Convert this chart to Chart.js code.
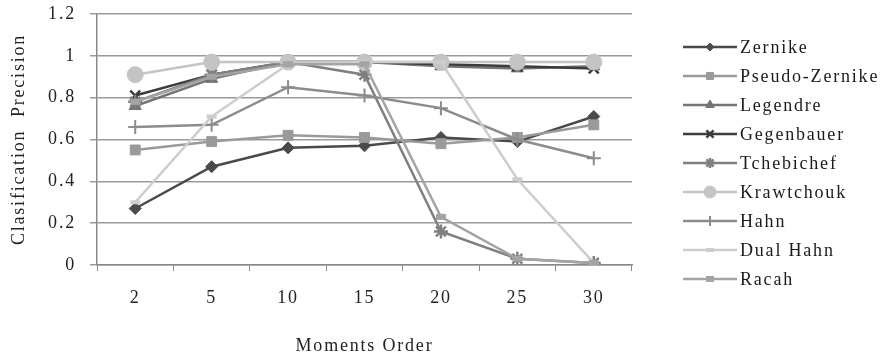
<!DOCTYPE html>
<html>
<head>
<meta charset="utf-8">
<script src="https://cdn.jsdelivr.net/npm/chart.js@4/dist/chart.umd.min.js"></script>
<style>
html,body{margin:0;padding:0;background:#fff;}
#wrap{width:884px;height:353px;position:relative;}
</style>
</head>
<body>
<div id="wrap"><canvas id="c" width="884" height="353"></canvas></div>
<script>
const categories = ['2','5','10','15','20','25','30'];
const zernike      = [0.27, 0.47, 0.56, 0.57, 0.61, 0.59, 0.71];
const pseudoZernike= [0.55, 0.59, 0.62, 0.61, 0.58, 0.61, 0.67];
const legendre     = [0.76, 0.89, 0.97, 0.97, 0.95, 0.94, 0.95];
const gegenbauer   = [0.81, 0.91, 0.97, 0.97, 0.96, 0.95, 0.94];
const tchebichef   = [0.78, 0.91, 0.97, 0.91, 0.16, 0.03, 0.01];
const krawtchouk   = [0.91, 0.97, 0.97, 0.97, 0.97, 0.97, 0.97];
const hahn         = [0.66, 0.67, 0.85, 0.81, 0.75, 0.60, 0.51];
const dualHahn     = [0.30, 0.71, 0.96, 0.97, 0.97, 0.41, 0.01];
const racah        = [0.78, 0.90, 0.96, 0.96, 0.23, 0.03, 0.01];
const yTicks = [0, 0.2, 0.4, 0.6, 0.8, 1, 1.2];

const seriesNames = ['Zernike','Pseudo-Zernike','Legendre','Gegenbauer','Tchebichef','Krawtchouk','Hahn','Dual Hahn','Racah'];
const seriesData = [zernike, pseudoZernike, legendre, gegenbauer, tchebichef, krawtchouk, hahn, dualHahn, racah];
const colors = ['#4a4a4a','#9a9a9a','#747474','#3c3c3c','#808080','#c4c4c4','#8c8c8c','#cdcdcd','#a4a4a4'];
const styles = ['rectRot','rect','triangle','crossRot','star','circle','cross','line','line'];
const radii = [6, 7, 7, 7, 7, 8, 7, 5, 5];
const pbw = [1, 1, 1, 2.5, 2.5, 1, 2, 4, 6];

const FONT = "'Liberation Serif', 'DejaVu Serif', serif";
const LS = '1.8px';

const datasets = seriesNames.map((n, i) => ({
  label: n,
  data: seriesData[i],
  borderColor: colors[i],
  backgroundColor: colors[i],
  pointBackgroundColor: colors[i],
  pointBorderColor: colors[i],
  pointStyle: styles[i],
  pointRadius: radii[i],
  pointBorderWidth: pbw[i],
  borderWidth: 2.5,
  tension: 0,
  fill: false,
  order: seriesNames.length - i
}));

const spacingPlugin = {
  id: 'spacing',
  beforeInit(chart) { chart.ctx.letterSpacing = LS; },
  beforeLayout(chart) { chart.ctx.letterSpacing = LS; },
  beforeDraw(chart) { chart.ctx.letterSpacing = LS; }
};

const legendPlugin = {
  id: 'sideLegend',
  afterDraw(chart) {
    const ctx = chart.ctx;
    const x0 = chart.chartArea.right + 51;
    const y0 = 47;
    ctx.save();
    chart.data.datasets.forEach((ds, i) => {
      const y = y0 + i * 29;
      ctx.strokeStyle = ds.borderColor;
      ctx.lineWidth = 2.5;
      ctx.beginPath();
      ctx.moveTo(x0, y);
      ctx.lineTo(x0 + 54, y);
      ctx.stroke();
      ctx.fillStyle = ds.pointBackgroundColor;
      ctx.strokeStyle = ds.pointBorderColor;
      ctx.lineWidth = ds.pointBorderWidth;
      Chart.helpers.drawPoint(ctx, {pointStyle: ds.pointStyle, radius: Math.max(4, ds.pointRadius - 2), borderWidth: ds.pointBorderWidth, rotation: 0}, x0 + 27, y);
      ctx.fillStyle = '#1a1a1a';
      ctx.font = "18px " + FONT;
      ctx.letterSpacing = LS;
      ctx.textBaseline = 'middle';
      ctx.textAlign = 'left';
      ctx.fillText(ds.label, x0 + 57, y + 1);
    });
    ctx.restore();
  }
};

new Chart(document.getElementById('c'), {
  type: 'line',
  data: { labels: categories, datasets },
  options: {
    responsive: false,
    animation: false,
    devicePixelRatio: 1,
    layout: { padding: { left: 0, right: 252, top: 14, bottom: 0 } },
    plugins: { legend: { display: false }, tooltip: { enabled: false } },
    scales: {
      x: {
        offset: true,
        afterFit(s) { s.height = 88; s.paddingLeft = 0; s.paddingRight = 0; },
        grid: { drawOnChartArea: false, offset: true, color: '#8a8a8a', tickLength: 6, lineWidth: 1 },
        border: { color: '#8a8a8a', width: 1.5 },
        ticks: { color: '#222', font: { family: FONT, size: 18 }, padding: 16 },
        title: { display: true, text: 'Moments Order', color: '#222', font: { family: FONT, size: 18 }, padding: { top: 4, bottom: -4 } }
      },
      y: {
        min: 0, max: 1.2,
        afterFit(s) { s.width = 97; s.paddingTop = 0; s.paddingBottom = 0; },
        afterBuildTicks(s) { s.ticks = yTicks.map(v => ({ value: v })); },
        grid: { color: '#9a9a9a', lineWidth: 1.5, tickLength: 7 },
        border: { color: '#8a8a8a', width: 1.5 },
        ticks: { color: '#222', font: { family: FONT, size: 18 }, padding: 14, callback: v => String(v) },
        title: { display: true, text: 'Clasification  Precision', color: '#222', font: { family: FONT, size: 18 }, padding: { top: 8, bottom: 0 } }
      }
    }
  },
  plugins: [spacingPlugin, legendPlugin]
});
</script>
</body>
</html>
